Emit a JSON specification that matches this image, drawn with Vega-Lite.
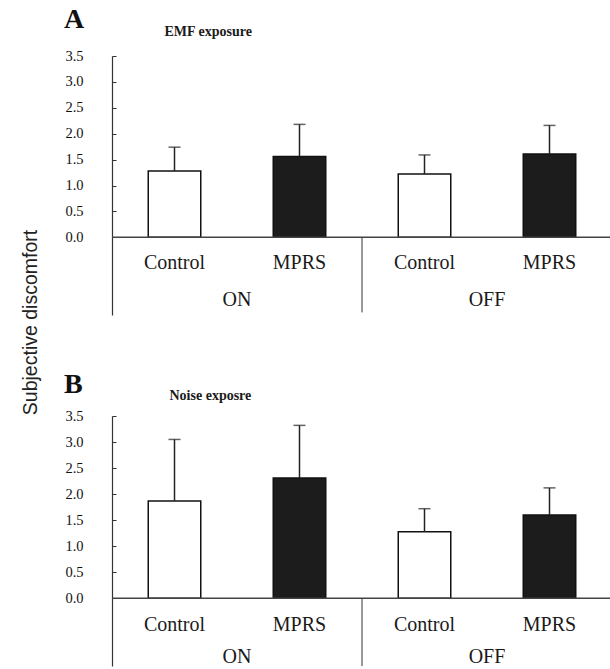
{
  "$schema": "https://vega.github.io/schema/vega-lite/v6.json",
  "background": "white",
  "padding": {"left": 20, "top": 6, "right": 0, "bottom": 0},
  "spacing": 101,
  "bounds": "flush",
  "config": {
    "view": {"stroke": null},
    "font": "Liberation Serif",
    "text": {"font": "Liberation Serif", "color": "#1a1a1a"},
    "axis": {"labelOverlap": false, "labelFlush": false, "labelBound": false, "grid": false},
    "axisY": {"labelOverlap": false, "labelFont": "Liberation Serif", "labelFontSize": 14.5, "labelColor": "#111", "labelPadding": 33, "tickSize": -4, "tickColor": "#333", "domainColor": "#333", "domainWidth": 1.2}
  },
  "data": {
    "values": [
      {"panel": "A", "condition": "ON", "group": "Control", "bar": "ON Control", "mean": 1.28, "upper": 1.74},
      {"panel": "A", "condition": "ON", "group": "MPRS", "bar": "ON MPRS", "mean": 1.56, "upper": 2.18},
      {"panel": "A", "condition": "OFF", "group": "Control", "bar": "OFF Control", "mean": 1.22, "upper": 1.59},
      {"panel": "A", "condition": "OFF", "group": "MPRS", "bar": "OFF MPRS", "mean": 1.61, "upper": 2.16},
      {"panel": "B", "condition": "ON", "group": "Control", "bar": "ON Control", "mean": 1.87, "upper": 3.05},
      {"panel": "B", "condition": "ON", "group": "MPRS", "bar": "ON MPRS", "mean": 2.31, "upper": 3.32},
      {"panel": "B", "condition": "OFF", "group": "Control", "bar": "OFF Control", "mean": 1.28, "upper": 1.72},
      {"panel": "B", "condition": "OFF", "group": "MPRS", "bar": "OFF MPRS", "mean": 1.60, "upper": 2.12}
    ]
  },
  "vconcat": [
    {
      "title": {"text": "A", "anchor": "start", "frame": "group", "dx": -48, "offset": -31, "baseline": "alphabetic", "fontSize": 28, "font": "Liberation Serif", "fontWeight": "bold", "color": "#111"},
      "width": 500,
      "height": 259,
      "transform": [{"filter": "datum.panel === 'A'"}],
      "layer": [
        {
          "mark": {"type": "bar", "stroke": "#111", "strokeWidth": 1.5, "width": {"band": 0.42}},
          "encoding": {
            "x": {"field": "bar", "type": "nominal", "sort": ["ON Control", "ON MPRS", "OFF Control", "OFF MPRS"], "scale": {"paddingInner": 0, "paddingOuter": 0}, "axis": null},
            "y": {"field": "mean", "type": "quantitative", "scale": {"domain": [-1.5, 3.5], "nice": false, "zero": false},
              "axis": {"tickCount": 10, "labelOverlap": false, "labelSeparation": 0,
                "labelExpr": "datum.value < 0 ? '' : format(datum.value, '.1f')",
                "tickOpacity": {"condition": {"test": "datum.value < 0", "value": 0}, "value": 1},
                "title": "Subjective discomfort", "titleFont": "Liberation Sans", "titleFontSize": 19.5, "titleFontWeight": "normal", "titleColor": "#222",
                "titleX": -72, "titleY": 266, "titleAngle": -90, "titleAlign": "center", "titleBaseline": "bottom"}},
            "y2": {"datum": 0},
            "fill": {"field": "group", "type": "nominal", "scale": {"domain": ["Control", "MPRS"], "range": ["#ffffff", "#1c1c1c"]}, "legend": null}
          }
        },
        {
          "mark": {"type": "rule", "color": "#222", "strokeWidth": 1.5},
          "encoding": {
            "x": {"field": "bar", "type": "nominal", "sort": ["ON Control", "ON MPRS", "OFF Control", "OFF MPRS"]},
            "y": {"field": "mean", "type": "quantitative"},
            "y2": {"field": "upper"}
          }
        },
        {
          "mark": {"type": "tick", "color": "#222", "size": 12, "thickness": 1.5},
          "encoding": {
            "x": {"field": "bar", "type": "nominal", "sort": ["ON Control", "ON MPRS", "OFF Control", "OFF MPRS"]},
            "y": {"field": "upper", "type": "quantitative"}
          }
        },
        {
          "transform": [{"filter": "datum.bar === 'ON Control'"}],
          "mark": {"type": "rule", "color": "#444", "strokeWidth": 1.5},
          "encoding": {"y": {"datum": 0}}
        },
        {
          "transform": [{"filter": "datum.bar === 'ON MPRS'"}],
          "mark": {"type": "rule", "color": "#333", "strokeWidth": 1},
          "encoding": {
            "x": {"field": "bar", "type": "nominal", "sort": ["ON Control", "ON MPRS", "OFF Control", "OFF MPRS"], "bandPosition": 1},
            "y": {"datum": 0},
            "y2": {"datum": -1.45}
          }
        },
        {
          "mark": {"type": "text", "font": "Liberation Serif", "fontSize": 20, "baseline": "middle"},
          "encoding": {
            "x": {"field": "bar", "type": "nominal", "sort": ["ON Control", "ON MPRS", "OFF Control", "OFF MPRS"]},
            "y": {"datum": -0.5},
            "text": {"field": "group"}
          }
        },
        {
          "transform": [{"filter": "datum.group === 'Control'"}],
          "mark": {"type": "text", "font": "Liberation Serif", "fontSize": 20, "baseline": "middle"},
          "encoding": {
            "x": {"field": "bar", "type": "nominal", "sort": ["ON Control", "ON MPRS", "OFF Control", "OFF MPRS"], "bandPosition": 1},
            "y": {"datum": -1.22},
            "text": {"field": "condition"}
          }
        },
        {
          "transform": [{"filter": "datum.bar === 'ON Control'"}],
          "mark": {"type": "text", "font": "Liberation Serif", "fontSize": 14, "fontWeight": "bold", "align": "left", "baseline": "alphabetic"},
          "encoding": {
            "x": {"field": "bar", "type": "nominal", "sort": ["ON Control", "ON MPRS", "OFF Control", "OFF MPRS"], "bandPosition": 0.42},
            "y": {"datum": 3.88},
            "text": {"value": "EMF exposure"}
          }
        }
      ]
    },
    {
      "title": {"text": "B", "anchor": "start", "frame": "group", "dx": -48, "offset": -32, "baseline": "alphabetic", "fontSize": 28, "font": "Liberation Serif", "fontWeight": "bold", "color": "#111"},
      "width": 500,
      "height": 250,
      "transform": [{"filter": "datum.panel === 'B'"}],
      "layer": [
        {
          "mark": {"type": "bar", "stroke": "#111", "strokeWidth": 1.5, "width": {"band": 0.42}},
          "encoding": {
            "x": {"field": "bar", "type": "nominal", "sort": ["ON Control", "ON MPRS", "OFF Control", "OFF MPRS"], "scale": {"paddingInner": 0, "paddingOuter": 0}, "axis": null},
            "y": {"field": "mean", "type": "quantitative", "scale": {"domain": [-1.3, 3.5], "nice": false, "zero": false},
              "axis": {"tickCount": 10, "labelOverlap": false, "labelSeparation": 0, "title": null,
                "labelExpr": "datum.value < 0 ? '' : format(datum.value, '.1f')",
                "tickOpacity": {"condition": {"test": "datum.value < 0", "value": 0}, "value": 1}}},
            "y2": {"datum": 0},
            "fill": {"field": "group", "type": "nominal", "scale": {"domain": ["Control", "MPRS"], "range": ["#ffffff", "#1c1c1c"]}, "legend": null}
          }
        },
        {
          "mark": {"type": "rule", "color": "#222", "strokeWidth": 1.5},
          "encoding": {
            "x": {"field": "bar", "type": "nominal", "sort": ["ON Control", "ON MPRS", "OFF Control", "OFF MPRS"]},
            "y": {"field": "mean", "type": "quantitative"},
            "y2": {"field": "upper"}
          }
        },
        {
          "mark": {"type": "tick", "color": "#222", "size": 12, "thickness": 1.5},
          "encoding": {
            "x": {"field": "bar", "type": "nominal", "sort": ["ON Control", "ON MPRS", "OFF Control", "OFF MPRS"]},
            "y": {"field": "upper", "type": "quantitative"}
          }
        },
        {
          "transform": [{"filter": "datum.bar === 'ON Control'"}],
          "mark": {"type": "rule", "color": "#444", "strokeWidth": 1.5},
          "encoding": {"y": {"datum": 0}}
        },
        {
          "transform": [{"filter": "datum.bar === 'ON MPRS'"}],
          "mark": {"type": "rule", "color": "#333", "strokeWidth": 1},
          "encoding": {
            "x": {"field": "bar", "type": "nominal", "sort": ["ON Control", "ON MPRS", "OFF Control", "OFF MPRS"], "bandPosition": 1},
            "y": {"datum": 0},
            "y2": {"datum": -1.3}
          }
        },
        {
          "mark": {"type": "text", "font": "Liberation Serif", "fontSize": 20, "baseline": "middle"},
          "encoding": {
            "x": {"field": "bar", "type": "nominal", "sort": ["ON Control", "ON MPRS", "OFF Control", "OFF MPRS"]},
            "y": {"datum": -0.52},
            "text": {"field": "group"}
          }
        },
        {
          "transform": [{"filter": "datum.group === 'Control'"}],
          "mark": {"type": "text", "font": "Liberation Serif", "fontSize": 20, "baseline": "middle"},
          "encoding": {
            "x": {"field": "bar", "type": "nominal", "sort": ["ON Control", "ON MPRS", "OFF Control", "OFF MPRS"], "bandPosition": 1},
            "y": {"datum": -1.13},
            "text": {"field": "condition"}
          }
        },
        {
          "transform": [{"filter": "datum.bar === 'ON Control'"}],
          "mark": {"type": "text", "font": "Liberation Serif", "fontSize": 14, "fontWeight": "bold", "align": "left", "baseline": "alphabetic"},
          "encoding": {
            "x": {"field": "bar", "type": "nominal", "sort": ["ON Control", "ON MPRS", "OFF Control", "OFF MPRS"], "bandPosition": 0.46},
            "y": {"datum": 3.8},
            "text": {"value": "Noise exposre"}
          }
        }
      ]
    }
  ]
}
